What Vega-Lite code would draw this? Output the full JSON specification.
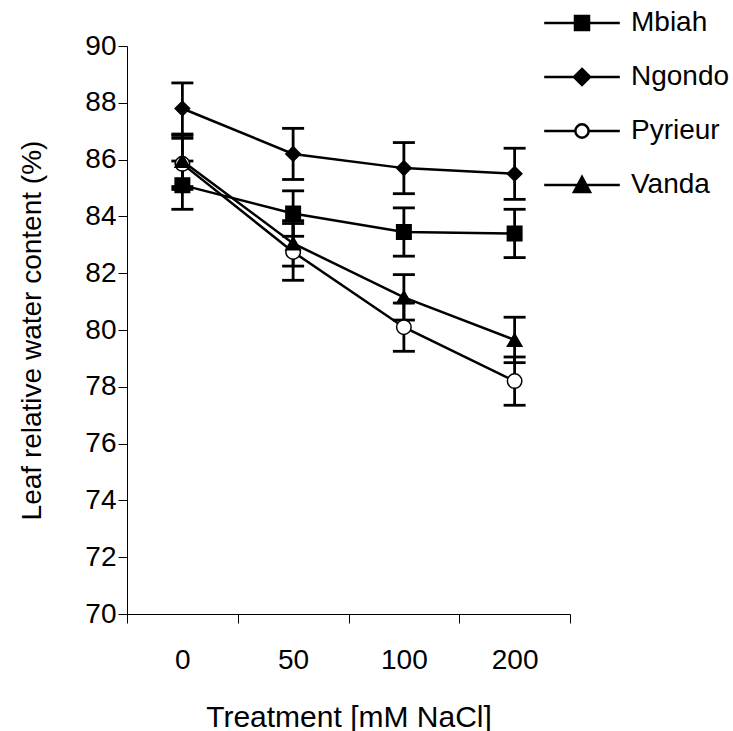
{
  "$schema": "https://vega.github.io/schema/vega-lite/v6.json",
  "width": 443,
  "height": 568,
  "autosize": "none",
  "padding": {"left": 127, "top": 46, "right": 163, "bottom": 117},
  "background": "white",
  "config": {
    "view": {"stroke": null},
    "font": "Liberation Sans",
    "axis": {
      "grid": false,
      "domainColor": "black",
      "domainWidth": 1,
      "tickColor": "black",
      "tickWidth": 1,
      "tickSize": 9,
      "labelColor": "black",
      "labelFont": "Liberation Sans",
      "labelFontSize": 28,
      "labelOverlap": false,
      "titleColor": "black",
      "titleFont": "Liberation Sans",
      "titleFontWeight": "normal",
      "titleFontSize": 28
    }
  },
  "data": {
    "values": [
      {"variety": "Mbiah", "treatment": "0", "mean": 85.1, "sd": 0.85},
      {"variety": "Mbiah", "treatment": "50", "mean": 84.1, "sd": 0.8},
      {"variety": "Mbiah", "treatment": "100", "mean": 83.45, "sd": 0.85},
      {"variety": "Mbiah", "treatment": "200", "mean": 83.4, "sd": 0.85},
      {"variety": "Ngondo", "treatment": "0", "mean": 87.8, "sd": 0.9},
      {"variety": "Ngondo", "treatment": "50", "mean": 86.2, "sd": 0.9},
      {"variety": "Ngondo", "treatment": "100", "mean": 85.7, "sd": 0.9},
      {"variety": "Ngondo", "treatment": "200", "mean": 85.5, "sd": 0.9},
      {"variety": "Pyrieur", "treatment": "0", "mean": 85.85, "sd": 0.9},
      {"variety": "Pyrieur", "treatment": "50", "mean": 82.75, "sd": 1.0},
      {"variety": "Pyrieur", "treatment": "100", "mean": 80.1, "sd": 0.85},
      {"variety": "Pyrieur", "treatment": "200", "mean": 78.2, "sd": 0.85},
      {"variety": "Vanda", "treatment": "0", "mean": 85.95, "sd": 0.9},
      {"variety": "Vanda", "treatment": "50", "mean": 83.05, "sd": 0.8},
      {"variety": "Vanda", "treatment": "100", "mean": 81.15, "sd": 0.8},
      {"variety": "Vanda", "treatment": "200", "mean": 79.65, "sd": 0.8}
    ]
  },
  "encoding": {
    "x": {
      "field": "treatment",
      "type": "ordinal",
      "sort": ["0", "50", "100", "200"],
      "scale": {"paddingInner": 0, "paddingOuter": 0},
      "axis": {
        "title": "Treatment [mM NaCl]",
        "titleFontSize": 30,
        "titlePadding": 28,
        "labelAngle": 0,
        "labelPadding": 23,
        "tickBand": "extent"
      }
    }
  },
  "resolve": {"scale": {"shape": "independent", "fill": "independent"}},
  "layer": [
    {
      "mark": {
        "type": "errorbar",
        "color": "black",
        "opacity": 1,
        "thickness": 2.8,
        "ticks": {"size": 22, "thickness": 2.8, "color": "black", "opacity": 1},
        "rule": {"color": "black", "opacity": 1, "strokeWidth": 2.8}
      },
      "encoding": {
        "y": {
          "field": "mean",
          "type": "quantitative",
          "scale": {"domain": [70, 90]},
          "axis": {
            "title": "Leaf relative water content (%)",
            "values": [70, 72, 74, 76, 78, 80, 82, 84, 86, 88, 90],
            "labelPadding": 2,
            "titlePadding": 38
          }
        },
        "yError": {"field": "sd"},
        "detail": {"field": "variety"}
      }
    },
    {
      "mark": {"type": "line", "color": "black", "strokeWidth": 2.5},
      "encoding": {
        "y": {"field": "mean", "type": "quantitative"},
        "detail": {"field": "variety"}
      }
    },
    {
      "mark": {"type": "point", "filled": true, "size": 210, "stroke": "black", "strokeWidth": 1.5, "opacity": 1},
      "encoding": {
        "y": {"field": "mean", "type": "quantitative"},
        "shape": {
          "field": "variety",
          "type": "nominal",
          "scale": {
            "domain": ["Mbiah", "Ngondo", "Pyrieur", "Vanda"],
            "range": ["square", "diamond", "circle", "triangle-up"]
          },
          "legend": null
        },
        "fill": {
          "field": "variety",
          "type": "nominal",
          "scale": {
            "domain": ["Mbiah", "Ngondo", "Pyrieur", "Vanda"],
            "range": ["black", "black", "white", "black"]
          },
          "legend": null
        }
      }
    },
    {
      "mark": {"type": "point", "filled": true, "size": 196, "opacity": 0, "stroke": "black", "strokeWidth": 2.5},
      "encoding": {
        "y": {"field": "mean", "type": "quantitative"},
        "shape": {
          "field": "variety",
          "type": "nominal",
          "scale": {
            "domain": ["Mbiah", "Ngondo", "Pyrieur", "Vanda"],
            "range": [
              "M-5.4,0H5.4M-1,-1H1V1H-1Z",
              "M-5.4,0H5.4M0,-1.15L1.15,0L0,1.15L-1.15,0Z",
              "M-5.4,0H-0.95M0.95,0H5.4M-0.95,0A0.95,0.95,0,1,1,0.95,0A0.95,0.95,0,1,1,-0.95,0Z",
              "M-5.4,0H5.4M-1.15,1H1.15L0,-1.15Z"
            ]
          },
          "legend": {
            "title": null,
            "orient": "none",
            "legendX": 441,
            "legendY": -37,
            "padding": 0,
            "symbolSize": 196,
            "symbolOpacity": 1,
            "symbolStrokeWidth": 2.5,
            "labelFontSize": 28,
            "labelColor": "black",
            "labelFont": "Liberation Sans",
            "labelOffset": 35,
            "rowPadding": 26
          }
        },
        "fill": {
          "field": "variety",
          "type": "nominal",
          "scale": {
            "domain": ["Mbiah", "Ngondo", "Pyrieur", "Vanda"],
            "range": ["black", "black", "white", "black"]
          },
          "legend": {
            "title": null,
            "orient": "none",
            "legendX": 441,
            "legendY": -37,
            "padding": 0,
            "symbolSize": 196,
            "symbolOpacity": 1,
            "symbolStrokeWidth": 2.5,
            "labelFontSize": 28,
            "labelColor": "black",
            "labelFont": "Liberation Sans",
            "labelOffset": 35,
            "rowPadding": 26
          }
        }
      }
    }
  ]
}
